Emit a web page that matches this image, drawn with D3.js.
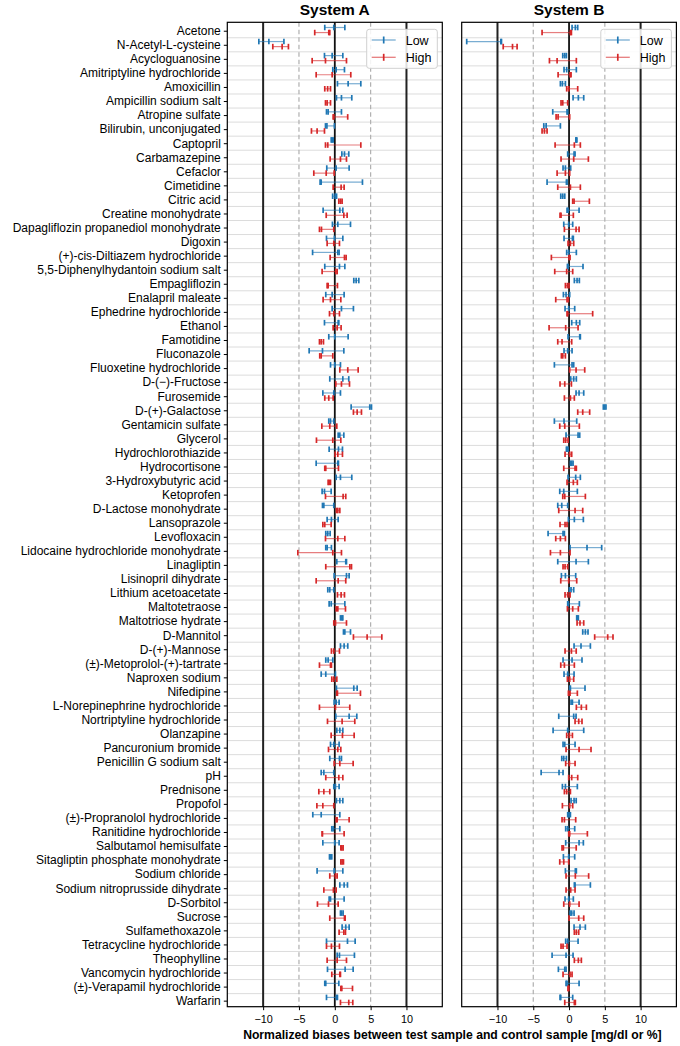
<!DOCTYPE html>
<html><head><meta charset="utf-8">
<script src="https://cdn.jsdelivr.net/npm/d3@7"></script>
<style>body{margin:0;background:#fff}svg{display:block;font-family:"Liberation Sans",Arial,sans-serif}</style>
</head><body><svg id="c" width="680" height="1046"></svg>
<script>
const categories = ["Acetone","N-Acetyl-L-cysteine","Acycloguanosine","Amitriptyline hydrochloride","Amoxicillin","Ampicillin sodium salt","Atropine sulfate","Bilirubin, unconjugated","Captopril","Carbamazepine","Cefaclor","Cimetidine","Citric acid","Creatine monohydrate","Dapagliflozin propanediol monohydrate","Digoxin","(+)-cis-Diltiazem hydrochloride","5,5-Diphenylhydantoin sodium salt","Empagliflozin","Enalapril maleate","Ephedrine hydrochloride","Ethanol","Famotidine","Fluconazole","Fluoxetine hydrochloride","D-(\u2212)-Fructose","Furosemide","D-(+)-Galactose","Gentamicin sulfate","Glycerol","Hydrochlorothiazide","Hydrocortisone","3-Hydroxybutyric acid","Ketoprofen","D-Lactose monohydrate","Lansoprazole","Levofloxacin","Lidocaine hydrochloride monohydrate","Linagliptin","Lisinopril dihydrate","Lithium acetoacetate","Maltotetraose","Maltotriose hydrate","D-Mannitol","D-(+)-Mannose","(\u00b1)-Metoprolol-(+)-tartrate","Naproxen sodium","Nifedipine","L-Norepinephrine hydrochloride","Nortriptyline hydrochloride","Olanzapine","Pancuronium bromide","Penicillin G sodium salt","pH","Prednisone","Propofol","(\u00b1)-Propranolol hydrochloride","Ranitidine hydrochloride","Salbutamol hemisulfate","Sitagliptin phosphate monohydrate","Sodium chloride","Sodium nitroprusside dihydrate","D-Sorbitol","Sucrose","Sulfamethoxazole","Tetracycline hydrochloride","Theophylline","Vancomycin hydrochloride","(\u00b1)-Verapamil hydrochloride","Warfarin"];

const xTicks = [-10, -5, 0, 5, 10];
const seriesNames = ["Low", "High"];
const panelTitles = ["System A", "System B"];

// System A, Low
const aLowLo  = [-1.4,-10.6,-1.44,-0.28,0.37,0.23,-1.16,-1.3,-0.5,0.98,-1.12,-2.05,-0.3,-1.63,-0.33,-1.16,-3.1,-1.4,2.65,-1.26,-0.37,-1.44,-0.84,-3.58,-0.6,-0.7,-1.67,2.28,-0.84,0.47,-0.79,-2.6,0.19,-1.77,-1.72,-1.07,-1.26,-1.26,0.28,-0.09,-0.98,-0.79,0.79,1.21,0.79,-1.26,-1.9,0.23,-0.09,0.14,0.28,-0.6,-0.7,-1.9,-0.14,0.23,-3.07,-0.42,-1.67,-0.74,-2.47,0.7,-0.79,0.79,1.02,-1.16,0.33,-1.02,-1.4,-1.16];
const aLowMid = [-0.14,-9.2,-0.37,0.19,1.86,0.93,-0.93,-1.1,-0.37,1.35,0.19,-1.9,0.05,0.7,0.42,-0.05,0.42,0.65,2.98,-0.37,0.93,0.47,0,-1.72,0,1.12,-0.14,4.88,-0.6,0.7,0.51,0.42,0.79,-1.44,-1.53,-0.47,-0.98,-1.07,1.53,1.63,-0.7,-0.5,0.98,1.4,1.3,-0.93,-1.26,2.65,0.19,2.0,0.7,-0.14,0.65,-1.53,0.09,0.7,-1.9,-0.23,0,-0.6,-0.09,1.3,-0.6,0.93,1.53,1.77,0.65,1.44,-1.26,0.23];
const aLowHi  = [1.4,-7.1,1.12,1.35,3.63,2.37,0.93,-0.05,-0.23,1.95,2.0,3.86,0.25,1.12,2.19,1.12,0.6,1.4,3.35,1.3,2.6,0.56,1.86,1.26,0.79,1.95,0.79,5.12,-0.14,1.26,1.07,0.51,2.37,-0.51,-0.14,0.47,-0.65,-0.47,1.63,2.0,-0.14,1.4,1.12,2.19,1.81,-0.28,0.09,3.12,0.6,3.07,1.12,0.6,0.93,-0.14,0.6,1.12,0.7,0.7,0.6,-0.42,1.12,1.77,1.3,1.16,2.0,2.84,2.74,2.56,0.56,0.37];
// System A, High
const aHighLo  = [-2.8,-8.65,-3.16,-2.6,-1.4,-1.3,-0.23,-3.26,-1.3,-0.65,-2.93,-0.23,0.56,-1.2,-2.14,-1.07,-0.65,-1.77,-1.07,-1.63,-0.74,-0.23,-2.14,-2.1,0.7,0.14,-1.4,2.6,-1.81,-2.56,0.05,-1.4,-0.93,-1.3,0.23,-1.67,-1.3,-5.16,-1.26,-2.6,0.37,0.19,-0.14,2.6,-0.47,-2.14,-0.42,0.28,-2.14,-1.02,-0.51,-0.88,-0.09,-1.26,-2.23,-2.5,0.19,-1.77,0.84,0.84,-0.7,-1.53,-2.42,-0.7,0.6,-1.16,-1.07,-0.42,0.84,0.79];
const aHighMid = [-0.84,-7.35,-1.3,-0.37,-1.0,-1.07,-0.14,-2.47,-0.98,0.79,-1.2,0.88,0.8,1.26,-1.86,-0.14,1.35,0.14,-0.93,-0.6,-0.14,0.33,-1.9,-1.9,1.81,0.93,-0.84,3.12,-0.7,-0.28,0.42,-1.26,-0.74,1.16,0.42,-1.4,0.42,-0.28,2.1,0.47,0.88,0.42,0.1,4.51,-0.14,-0.6,-0.14,0.37,0.09,1.02,1.07,0.42,0.7,0.56,-1.53,-1.67,0.33,-1.72,0.98,1.02,0.09,-0.19,-0.88,1.35,1.26,-0.47,0.33,0.7,0.98,1.95];
const aHighHi  = [-0.7,-6.47,1.63,2.23,-0.6,-0.6,1.8,-1.44,3.63,1.63,-0.09,1.3,1.02,1.72,-0.14,0.65,1.58,0.33,0.37,0.84,0.65,0.88,-1.58,-0.28,3.26,2.05,-0.23,3.72,0.28,0.84,1.07,0.51,-0.6,1.53,0.7,-0.51,1.4,0.93,2.33,1.53,1.35,1.49,1.63,6.56,0.65,-0.47,0.28,3.58,2.09,2.79,2.7,0.84,2.56,1.12,-0.7,-0.14,2.0,1.3,1.16,1.21,0.33,0.19,0.47,1.44,1.49,0.65,1.63,0.79,2.47,2.51];
// System B, Low
const bLowLo  = [0.42,-14.3,-0.88,-0.7,-1.21,0.56,-2.28,-3.53,0.95,-0.19,-0.84,-3.07,-1.16,-0.28,-0.74,-0.7,-0.33,-0.23,0.74,-0.79,-0.56,0.37,-0.14,-0.7,-2.05,0.23,0.98,4.79,-2.05,-0.42,-0.37,0.19,-0.14,-1.3,-1.58,-0.09,-2.93,0.14,-1.58,-1.07,0.05,-0.19,1.07,1.91,0.7,-0.84,-0.7,0.09,0.28,-1.44,-2.23,-0.84,-1.02,-3.9,-0.93,0.28,-0.19,-0.47,-0.47,-0.79,-0.51,0.74,-0.56,0.14,0.7,-0.47,-2.37,-1.49,-0.42,-1.26];
const bLowMid = [0.88,-9.53,-0.6,-0.33,-0.93,1.3,-0.28,-3.2,1.0,0.7,-0.51,-0.37,-0.88,-0.14,-0.05,0.47,-0.05,-0.14,1.12,-0.42,-0.05,1.02,1.49,-0.19,0.42,0.65,1.4,4.98,-0.7,1.26,-0.28,0.37,0.93,-0.74,-1.02,0.74,-0.84,2.51,0.98,-0.51,0.28,-0.09,1.16,2.28,1.67,0.42,-0.19,0.19,0.47,0.65,-0.19,-0.6,-0.74,-1.4,-0.51,0.7,0,-0.19,1.4,-0.05,0.88,0.84,-0.05,0.37,1.53,-0.19,-0.42,-0.6,-0.28,-1.16];
const bLowHi  = [1.21,-9.44,-0.37,1.02,-0.51,2.05,-0.19,-1.21,1.1,0.84,0.23,-0.28,-0.6,1.4,0.51,0.6,1.02,1.95,1.44,0.09,0.79,1.49,1.58,0.42,0.65,1.02,2.05,5.16,1.07,1.49,-0.14,0.56,1.58,1.16,-0.19,2.0,-0.65,4.56,2.7,0.93,0.65,1.44,1.3,2.65,2.98,1.81,0.7,2.23,1.4,0.98,2.05,0.84,-0.37,-0.84,1.16,1.0,0.19,0.79,2.0,0.79,1.02,2.98,0.6,0.7,2.28,1.26,0.56,-0.42,1.4,0.51];
// System B, High
const bHighLo  = [-3.77,-9.2,-2.74,-1.53,-0.33,-1.12,-1.81,-3.77,-1.95,-1.12,-1.67,-1.58,0.51,-1.26,-0.65,-0.14,-2.47,-2.0,-0.51,-1.86,-0.28,-2.79,-1.58,-1.07,0.09,-1.26,-0.65,1.21,-1.3,-0.74,-0.56,-0.74,-0.28,-0.88,-1.44,-1.26,-1.86,-2.6,-0.84,-1.16,-0.56,-0.23,1.12,3.58,-0.56,-1.16,-0.23,-0.09,1.02,0.84,-0.33,-0.42,-0.47,-0.05,-0.65,-0.93,-0.98,-0.05,-0.98,-1.3,-0.42,-0.42,-0.74,0,0.74,-1.12,0.74,-0.84,-0.14,-0.6];
const bHighMid = [0.19,-7.9,-1.67,0.14,-0.05,-0.88,-1.53,-3.44,0.74,0.65,-0.51,0.19,0.7,-1.12,0.98,0.19,0,-0.33,-0.23,-0.28,-0.19,-0.47,-0.98,-0.88,0.98,-0.6,0.19,1.91,-0.6,-0.47,0.09,0.84,0.6,-0.6,0.84,-0.56,-1.21,-1.21,-0.56,-0.05,-0.19,0.51,1.53,5.4,0.33,-0.65,0.09,0.14,1.72,1.35,0.05,1.4,0.05,0.37,-0.33,0.09,-0.65,0.09,-0.79,-0.74,0.88,0.23,0.09,1.35,1.02,-0.84,1.3,0.14,-0.09,0.74];
const bHighHi  = [0.33,-7.26,1.02,0.28,1.21,-0.19,0.09,-3.07,1.58,2.7,0.09,1.58,2.84,0.6,1.4,0.65,0.14,0.51,0,-0.09,3.3,1.26,0.37,-0.51,2.19,0.33,0.74,2.88,1.44,-0.14,0.37,1.02,1.16,2.28,1.91,-0.28,-0.51,0.14,-0.19,1.07,0.14,1.3,2.05,6.14,1.0,0.74,0.65,1.16,2.42,1.81,0.47,3.07,0.84,1.21,0.19,0.51,0.93,2.56,1.0,-0.05,2.74,0.84,1.4,2.05,1.35,-0.28,1.72,0.42,-0.05,0.88];

const colors = {Low: "#1f77b4", High: "#d62728"};

const svg = d3.select("#c");
const y = d3.scaleLinear().domain([-0.6, 69.43]).range([22.3, 1006.7]);
const panels = [
  {title: panelTitles[0], range: [227.3, 442.3], showY: true,
   series: [{name: "Low", lo: aLowLo, mid: aLowMid, hi: aLowHi, off: -0.23},
            {name: "High", lo: aHighLo, mid: aHighMid, hi: aHighHi, off: 0.13}]},
  {title: panelTitles[1], range: [461.7, 676.4], showY: false,
   series: [{name: "Low", lo: bLowLo, mid: bLowMid, hi: bLowHi, off: -0.23},
            {name: "High", lo: bHighLo, mid: bHighMid, hi: bHighHi, off: 0.13}]}
];
const yTop = y.range()[0], yBot = y.range()[1];

panels.forEach(p => {
  const x = d3.scaleLinear().domain([-15, 15]).range(p.range);
  const g = svg.append("g");
  const gridPos = d3.range(0, categories.length - 1).map(i => i + 0.5);
  g.selectAll(".grid").data(gridPos).join("line")
    .attr("x1", p.range[0]).attr("x2", p.range[1])
    .attr("y1", d => y(d)).attr("y2", d => y(d))
    .attr("stroke", "#dcdcdc").attr("stroke-width", 1);
  xTicks.forEach(v => {
    const l = g.append("line").attr("x1", x(v)).attr("x2", x(v)).attr("y1", yTop).attr("y2", yBot);
    if (Math.abs(v) === 5) l.attr("stroke", "#b0b0b0").attr("stroke-width", 1.2).attr("stroke-dasharray", "4.5,3");
    else if (v === 0) l.attr("stroke", "#111").attr("stroke-width", 1.8);
    else l.attr("stroke", "#222").attr("stroke-width", 2);
  });
  p.series.forEach(s => {
    const c = colors[s.name];
    const sg = g.append("g");
    categories.forEach((cat, i) => {
      const yy = y(i + s.off);
      sg.append("line").attr("x1", x(s.lo[i])).attr("x2", x(s.hi[i])).attr("y1", yy).attr("y2", yy)
        .attr("stroke", c).attr("stroke-opacity", 0.6).attr("stroke-width", 1.2);
      [s.lo[i], s.hi[i], s.mid[i]].forEach(v => {
        sg.append("line").attr("x1", x(v)).attr("x2", x(v)).attr("y1", yy - 2.8).attr("y2", yy + 2.8)
          .attr("stroke", c).attr("stroke-width", 1.7);
      });
    });
  });
  g.append("rect").attr("x", p.range[0]).attr("y", yTop).attr("width", p.range[1] - p.range[0]).attr("height", yBot - yTop)
    .attr("fill", "none").attr("stroke", "#000").attr("stroke-width", 1.2);
  const xa = g.append("g").attr("transform", `translate(0,${yBot})`)
    .call(d3.axisBottom(x).tickValues(xTicks).tickSize(3.5).tickPadding(5.5).tickFormat(d => d < 0 ? "\u2212" + Math.abs(d) : d));
  xa.select(".domain").remove();
  xa.selectAll("text").attr("font-size", 10.8).attr("fill", "#000").attr("font-family", "Liberation Sans, Arial, sans-serif");
  xa.selectAll("line").attr("stroke", "#000");
  if (p.showY) {
    const ya = g.append("g").attr("transform", `translate(${p.range[0]},0)`)
      .call(d3.axisLeft(y).tickValues(d3.range(categories.length)).tickSize(3.5).tickPadding(3).tickFormat(i => categories[i]));
    ya.select(".domain").remove();
    ya.selectAll("text").attr("font-size", 12).attr("fill", "#000").attr("font-family", "Liberation Sans, Arial, sans-serif");
    ya.selectAll("line").attr("stroke", "#000");
  }
  svg.append("text").attr("x", (p.range[0] + p.range[1]) / 2).attr("y", 15).attr("text-anchor", "middle")
    .attr("font-size", 15.5).attr("font-weight", "bold").text(p.title);
  const lw = 70.6, lh = 39, lx = p.range[1] - 5 - lw, ly = 29.3;
  const lg = svg.append("g");
  lg.append("rect").attr("x", lx).attr("y", ly).attr("width", lw).attr("height", lh).attr("rx", 2.5)
    .attr("fill", "#fff").attr("fill-opacity", 0.85).attr("stroke", "#d0d0d0").attr("stroke-width", 1);
  seriesNames.forEach((n, k) => {
    const yy = ly + 10.7 + k * 17.3;
    lg.append("line").attr("x1", lx + 5).attr("x2", lx + 29).attr("y1", yy).attr("y2", yy)
      .attr("stroke", colors[n]).attr("stroke-opacity", 0.6).attr("stroke-width", 1.3);
    lg.append("line").attr("x1", lx + 17).attr("x2", lx + 17).attr("y1", yy - 3.5).attr("y2", yy + 3.5)
      .attr("stroke", colors[n]).attr("stroke-width", 1.7);
    lg.append("text").attr("x", lx + 39).attr("y", yy + 4.5).attr("font-size", 12.5).attr("fill", "#000").text(n);
  });
});

svg.append("text").attr("x", 452.4).attr("y", 1039.3).attr("text-anchor", "middle")
  .attr("font-size", 12.2).attr("font-weight", "bold")
  .text("Normalized biases between test sample and control sample [mg/dl or %]");
</script></body></html>
